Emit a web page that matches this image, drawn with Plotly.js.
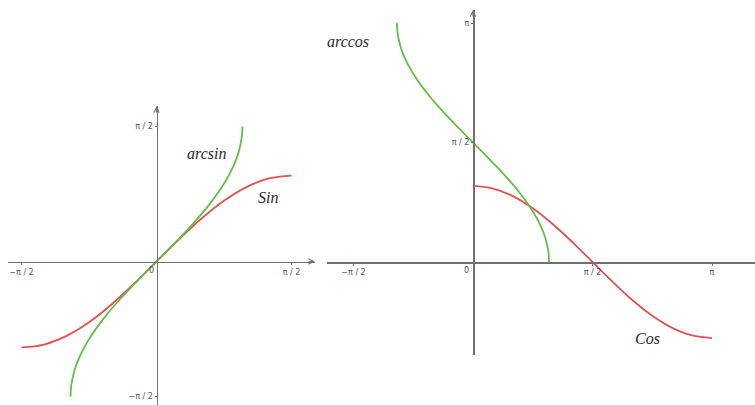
<!DOCTYPE html>
<html>
<head>
<meta charset="utf-8">
<script src="https://cdn.plot.ly/plotly-3.0.1.min.js"></script>
<style>
  html, body { margin: 0; padding: 0; background: #fff; }
  #graph { width: 755px; height: 405px; }
</style>
</head>
<body>
<div id="graph"></div>
<script>
// sampled curve values (radians)
var sin_x = [-1.571, -1.309, -1.047, -0.785, -0.524, -0.262, 0, 0.262, 0.524, 0.785, 1.047, 1.309, 1.571];
var sin_y = [-1, -0.966, -0.866, -0.707, -0.5, -0.259, 0, 0.259, 0.5, 0.707, 0.866, 0.966, 1];

var asin_x = [-1, -0.99, -0.95, -0.9, -0.8, -0.6, -0.4, -0.2, 0, 0.2, 0.4, 0.6, 0.8, 0.9, 0.95, 0.99, 1];
var asin_y = [-1.571, -1.429, -1.253, -1.120, -0.927, -0.644, -0.412, -0.201, 0, 0.201, 0.412, 0.644, 0.927, 1.120, 1.253, 1.429, 1.571];

var cos_x = [0, 0.262, 0.524, 0.785, 1.047, 1.309, 1.571, 1.833, 2.094, 2.356, 2.618, 2.880, 3.142];
var cos_y = [1, 0.966, 0.866, 0.707, 0.5, 0.259, 0, -0.259, -0.5, -0.707, -0.866, -0.966, -1];

var acos_x = [-1, -0.99, -0.95, -0.9, -0.8, -0.6, -0.4, -0.2, 0, 0.2, 0.4, 0.6, 0.8, 0.9, 0.95, 0.99, 1];
var acos_y = [3.142, 3.000, 2.824, 2.691, 2.498, 2.214, 1.982, 1.772, 1.571, 1.369, 1.159, 0.927, 0.644, 0.451, 0.318, 0.142, 0];

// tick marks
var left_xticks = [-1.5708, 1.5708];
var left_xtext = ['\u2212\u03c0 / 2', '\u03c0 / 2'];
var left_yticks = [-1.5708, 1.5708];
var left_ytext = ['\u2212\u03c0 / 2', '\u03c0 / 2'];
var right_xticks = [-1.5708, 1.5708, 3.1416];
var right_xtext = ['\u2212\u03c0 / 2', '\u03c0 / 2', '\u03c0'];
var right_yticks = [1.5708, 3.1416];
var right_ytext = ['\u03c0 / 2', '\u03c0'];

// curve names and where they are written
var curve_names = ['arcsin', 'Sin', 'arccos', 'Cos'];
var name_x = [0.576, 1.297, -1.643, 2.300];
var name_y = [1.262, 0.750, 2.892, -1.012];
var name_panel = [1, 1, 2, 2];

var W = 755, H = 405;
var RED = 'rgb(222,82,82)';
var GREEN = 'rgb(98,190,68)';
var AXIS = '#707070';

// pixel geometry of the two panels: origin, px per unit, axis extents
var p1 = {ox: 156.5, oy: 261.5, k: 135 / (Math.PI / 2), x0: 8, x1: 315, y0: 106, y1: 405};
var p2 = {ox: 473, oy: 262, k: 119.5 / (Math.PI / 2), x0: 327, x1: 755, y0: 10, y1: 355};

function make_axes(p, xticks, xtext, yticks, ytext){
	var xr = [(p.x0 - p.ox) / p.k, (p.x1 - p.ox) / p.k];
	var yr = [(p.oy - p.y1) / p.k, (p.oy - p.y0) / p.k];
	var tickfont = {family: 'DejaVu Sans', size: 8, color: '#555'};
	var xaxis = {
		domain: [p.x0 / W, p.x1 / W],
		range: xr,
		anchor: 'free',
		position: 1 - p.oy / H,
		showgrid: false,
		zeroline: false,
		showline: true,
		linecolor: AXIS,
		linewidth: 1.5,
		ticks: 'outside',
		ticklen: 2,
		tickcolor: AXIS,
		tickvals: xticks,
		ticktext: xtext,
		tickfont: tickfont,
		fixedrange: true
	};
	var yaxis = {
		domain: [1 - p.y1 / H, 1 - p.y0 / H],
		range: yr,
		anchor: 'free',
		position: p.ox / W,
		showgrid: false,
		zeroline: false,
		showline: true,
		linecolor: AXIS,
		linewidth: 1.5,
		ticks: 'outside',
		ticklen: 2,
		tickcolor: AXIS,
		tickvals: yticks,
		ticktext: ytext,
		tickfont: tickfont,
		fixedrange: true
	};
	return {xaxis: xaxis, yaxis: yaxis};
}

var ax1 = make_axes(p1, left_xticks, left_xtext, left_yticks, left_ytext);
var ax2 = make_axes(p2, right_xticks, right_xtext, right_yticks, right_ytext);

function get_trace(arr_x, arr_y, color, xa, ya){
	return {
		x: arr_x,
		y: arr_y,
		xaxis: xa,
		yaxis: ya,
		mode: 'lines',
		type: 'scatter',
		line: {color: color, width: 1.8, shape: 'spline', smoothing: 1},
		hoverinfo: 'skip',
		cliponaxis: false
	};
}

var data = [
	get_trace(sin_x, sin_y, RED, 'x', 'y'),
	get_trace(asin_x, asin_y, GREEN, 'x', 'y'),
	get_trace(cos_x, cos_y, RED, 'x2', 'y2'),
	get_trace(acos_x, acos_y, GREEN, 'x2', 'y2')
];

var annotations = [];
// names of the curves
for(var i in curve_names){
	var sfx = name_panel[i] == 1 ? '' : '2';
	annotations.push({
		x: name_x[i], y: name_y[i], xref: 'x' + sfx, yref: 'y' + sfx,
		text: curve_names[i], showarrow: false,
		font: {family: 'Liberation Serif', size: 16, color: '#2a2a2a', style: 'italic'}
	});
}
// origin labels
annotations.push({x: 0, y: 0, xref: 'x', yref: 'y', text: '0', showarrow: false,
	xanchor: 'right', yanchor: 'top', xshift: -1, yshift: -2,
	font: {family: 'DejaVu Sans', size: 8, color: '#555'}});
annotations.push({x: 0, y: 0, xref: 'x2', yref: 'y2', text: '0', showarrow: false,
	xanchor: 'right', yanchor: 'top', xshift: -2, yshift: -2,
	font: {family: 'DejaVu Sans', size: 8, color: '#555'}});
// axis arrows
function arrow(xref, yref, x, y, ax, ay){
	return {x: x, y: y, xref: xref, yref: yref, ax: ax, ay: ay, text: '',
		showarrow: true, arrowhead: 5, arrowsize: 0.9, arrowwidth: 1.2, arrowcolor: AXIS};
}
annotations.push(arrow('x', 'y', ax1.xaxis.range[1], 0, -8, 0));
annotations.push(arrow('x', 'y', 0, ax1.yaxis.range[1], 0, 8));
annotations.push(arrow('x2', 'y2', 0, ax2.yaxis.range[1], 0, 8));

var layout = {
	width: W,
	height: H,
	margin: {l: 0, r: 0, t: 0, b: 0},
	paper_bgcolor: '#fff',
	plot_bgcolor: 'rgba(0,0,0,0)',
	showlegend: false,
	xaxis: ax1.xaxis,
	yaxis: ax1.yaxis,
	xaxis2: ax2.xaxis,
	yaxis2: ax2.yaxis,
	annotations: annotations
};

Plotly.newPlot('graph', data, layout, {staticPlot: true});
</script>
</body>
</html>
